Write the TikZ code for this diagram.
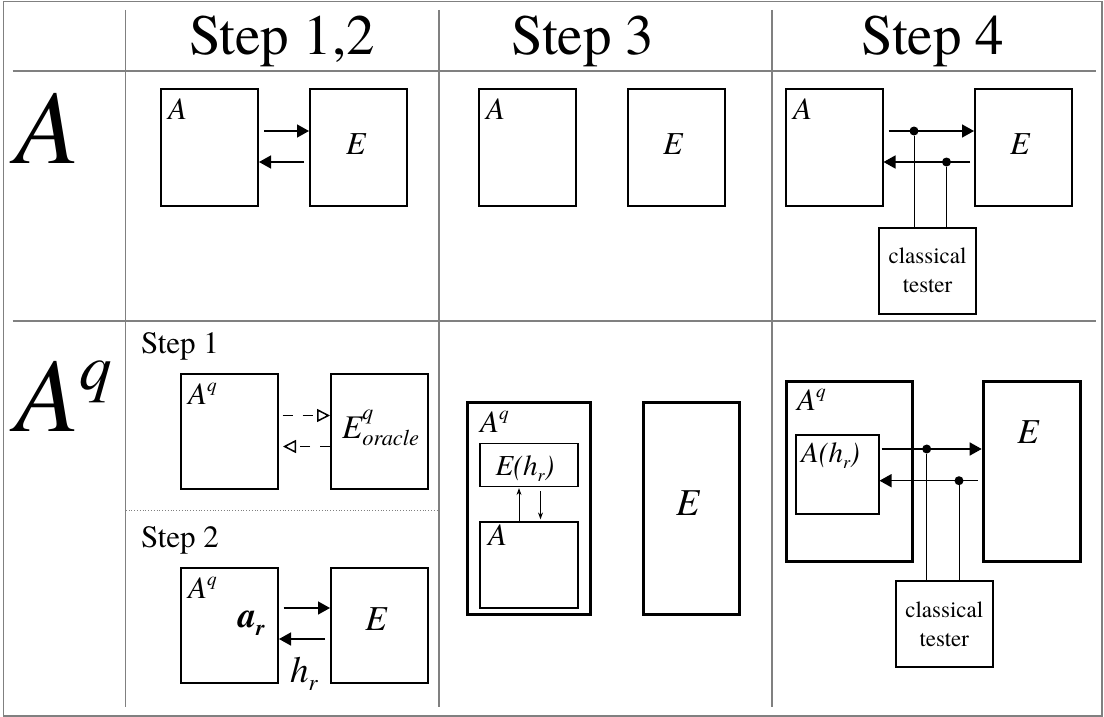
\documentclass[tikz,border=0pt]{standalone}
\usepackage{fontspec}
\setmainfont{texgyretermes}[Extension=.otf,UprightFont=*-regular,ItalicFont=*-italic,BoldFont=*-bold,BoldItalicFont=*-bolditalic]
\usepackage{xcolor}
\usepackage{graphicx}
\usepackage{tikz}
\usetikzlibrary{arrows.meta}
\definecolor{C808080}{HTML}{808080}
\newcommand\upidx[1]{\raisebox{0.4em}{\scalebox{0.62}{#1}}}
\newcommand\lowidx[1]{\raisebox{-0.23em}{\scalebox{0.62}{#1}}}

\begin{document}
\begin{tikzpicture}[inner sep=0pt,x=1pt,y=-1pt,
  grid/.style={draw=C808080,line width=1.2pt},
  box/.style={draw,line width=2pt,minimum width=97pt,minimum height=117pt},
  boldbox/.style={draw,line width=3pt},
  thinbox/.style={draw,line width=1.2pt},
  tester/.style={draw,line width=2pt,minimum width=97pt,minimum height=86pt,align=center,font=\fontsize{23}{29}\selectfont},
  head/.style={anchor=base,font=\fontsize{57}{60}\selectfont},
  big/.style={anchor=base west,font=\itshape\fontsize{105}{110}\selectfont},
  sub/.style={anchor=base west,font=\fontsize{31}{33}\selectfont},
  lbl/.style={anchor=base west,font=\itshape\fontsize{31}{33}\selectfont},
  mid/.style={anchor=base,font=\itshape\fontsize{32}{34}\selectfont},
  arr/.style={draw,-{Triangle[length=12pt,width=13pt]},line width=1.5pt},
  darr/.style={draw,-{Triangle[open,length=13pt,width=13pt]},line width=1.5pt,dash pattern=on 10pt off 10pt},
  sarr/.style={draw,-{Stealth[length=7pt,width=5pt]},line width=0.9pt},
  tap/.style={draw,line width=1pt},
  dot/.style={circle,fill,minimum size=9pt}]
\useasboundingbox (0,0) rectangle (1104,717);
% table
\draw[C808080,line width=1.5pt] (3.5,1.5) rectangle (1102,716);
\path[grid] (125.7,10) -- (125.7,707);
\path[grid] (439,10) -- (439,707);
\path[grid] (772,10) -- (772,707);
\path[grid] (12.5,71) -- (1096,71);
\path[grid] (12.5,321) -- (1096,321);
\path[draw=C808080,line width=0.8pt,dotted] (125.7,510) -- (439,510);
\node (h0) [head,at={(282,55)}] {Step 1,2};
\node (h1) [head,at={(583,55)}] {Step 3};
\node (h2) [head,at={(933,55)}] {Step 4};
\node (r0) [big,at={(15,163)}] {A};
\node (r1) [big,at={(15,431)}] {A\upidx{q}};
% row A
\node (n0) [box,at={(209.5,147.5)}] {};
\node (n1) [box,at={(358.5,147.5)}] {};
\node (n2) [box,at={(527,147.5)}] {};
\node (n3) [box,at={(676.5,147.5)}] {};
\node (n4) [box,at={(834,147.5)}] {};
\node (n5) [box,at={(1023.5,147.5)}] {};
\node (n6) [tester,at={(927.5,270.5)}] {classical\\tester};
\node (l0) [lbl,at={(168,120)}] {A};
\node (l1) [mid,at={(356,154)}] {E};
\node (l2) [lbl,at={(486,120)}] {A};
\node (l3) [mid,at={(673,154)}] {E};
\node (l4) [lbl,at={(793,120)}] {A};
\node (l5) [mid,at={(1020,154)}] {E};
\node (d0) [dot,at={(914,131)}] {};
\node (d1) [dot,at={(946.5,162)}] {};
\path [arr] ([xshift=5pt,yshift=16.5pt]n0.east) -- ([yshift=16.5pt]n1.west);
\path [arr] ([xshift=-5pt,yshift=-14.5pt]n1.west) -- ([yshift=-14.5pt]n0.east);
\path [arr] ([xshift=5pt,yshift=16.5pt]n4.east) -- ([yshift=16.5pt]n5.west);
\path [arr] ([xshift=-4pt,yshift=-14.5pt]n5.west) -- ([yshift=-14.5pt]n4.east);
\path [tap] (d0) -- (d0 |- n6.north);
\path [tap] (d1) -- (d1 |- n6.north);
% row A^q, step 1 and 2
\node (l6) [sub,at={(141,353)}] {Step 1};
\node (n7) [box,minimum height=115pt,at={(229.5,431.5)}] {};
\node (n8) [box,minimum height=115pt,at={(379.5,431.5)}] {};
\node (l7) [lbl,at={(188,404)}] {A\upidx{q}};
\node (l8) [lbl,font=\itshape\fontsize{33}{35}\selectfont,at={(342,438)}] {E\rlap{\raisebox{0.55em}{\scalebox{0.66}{q}}}\raisebox{-0.24em}{\scalebox{0.68}{oracle}}};
\path [darr] ([xshift=3.5pt,yshift=16pt]n7.east) -- ([yshift=16pt]n8.west);
\path [darr] ([yshift=-15pt]n8.west) -- ([xshift=4pt,yshift=-15pt]n7.east);
\node (l9) [sub,at={(141,547)}] {Step 2};
\node (n9) [box,minimum height=115pt,at={(229.5,625)}] {};
\node (n10) [box,minimum height=115pt,at={(379.5,625)}] {};
\node (l10) [lbl,at={(188,598)}] {A\upidx{q}};
\node (l11) [lbl,font=\bfseries\itshape\fontsize{36}{38}\selectfont,at={(238,627)}] {a\lowidx{r}};
\node (l12) [lbl,font=\itshape\fontsize{37}{39}\selectfont,at={(290,682)}] {h\lowidx{r}};
\node (l13) [mid,font=\itshape\fontsize{35}{37}\selectfont,at={(376,630)}] {E};
\path [arr] ([xshift=4.5pt,yshift=17pt]n9.east) -- ([yshift=17pt]n10.west);
\path [arr] ([xshift=-5pt,yshift=-14pt]n10.west) -- ([yshift=-14pt]n9.east);
% row A^q, step 3
\node (n11) [boldbox,minimum width=123pt,minimum height=212pt,at={(529,508)}] {};
\node (n12) [thinbox,minimum width=98pt,minimum height=43pt,at={(529,465)}] {};
\node (n13) [thinbox,minimum width=98pt,minimum height=86pt,at={(529,565)}] {};
\node (n14) [boldbox,minimum width=96pt,minimum height=212pt,at={(691,508)}] {};
\node (l14) [lbl,at={(480,432)}] {A\upidx{q}};
\node (l15) [mid,font=\itshape\fontsize{29}{31}\selectfont,at={(525,475)}] {E(h\lowidx{r})};
\node (l16) [lbl,at={(488,545)}] {A};
\node (l17) [mid,font=\itshape\fontsize{38}{40}\selectfont,at={(688,515)}] {E};
\path [sarr] ([xshift=-10pt]n13.north) -- ([xshift=-10pt,yshift=-1pt]n12.south);
\path [sarr] ([xshift=11.5pt,yshift=-4pt]n12.south) -- ([xshift=11.5pt,yshift=2pt]n13.north);
% row A^q, step 4
\node (n15) [boldbox,minimum width=126pt,minimum height=180pt,at={(849.7,471.7)}] {};
\node (n16) [thinbox,minimum width=83pt,minimum height=79pt,at={(837.4,474.5)}] {};
\node (n17) [boldbox,minimum width=97pt,minimum height=180pt,at={(1031.7,471.7)}] {};
\node (n18) [tester,at={(944.3,624)}] {classical\\tester};
\node (l18) [lbl,at={(797,410)}] {A\upidx{q}};
\node (l19) [lbl,font=\itshape\fontsize{29}{31}\selectfont,at={(801,462)}] {A(h\lowidx{r})};
\node (l20) [mid,font=\itshape\fontsize{35}{37}\selectfont,at={(1028,443)}] {E};
\node (d2) [dot,at={(926.7,449)}] {};
\node (d3) [dot,at={(959,480.7)}] {};
\path [arr] ([xshift=2pt,yshift=25.5pt]n16.east) -- ([yshift=22.7pt]n17.west);
\path [arr] ([xshift=-4pt,yshift=-9pt]n17.west) -- ([yshift=-6.2pt]n16.east);
\path [tap] (d2) -- (d2 |- n18.north);
\path [tap] (d3) -- (d3 |- n18.north);
\end{tikzpicture}
\end{document}
